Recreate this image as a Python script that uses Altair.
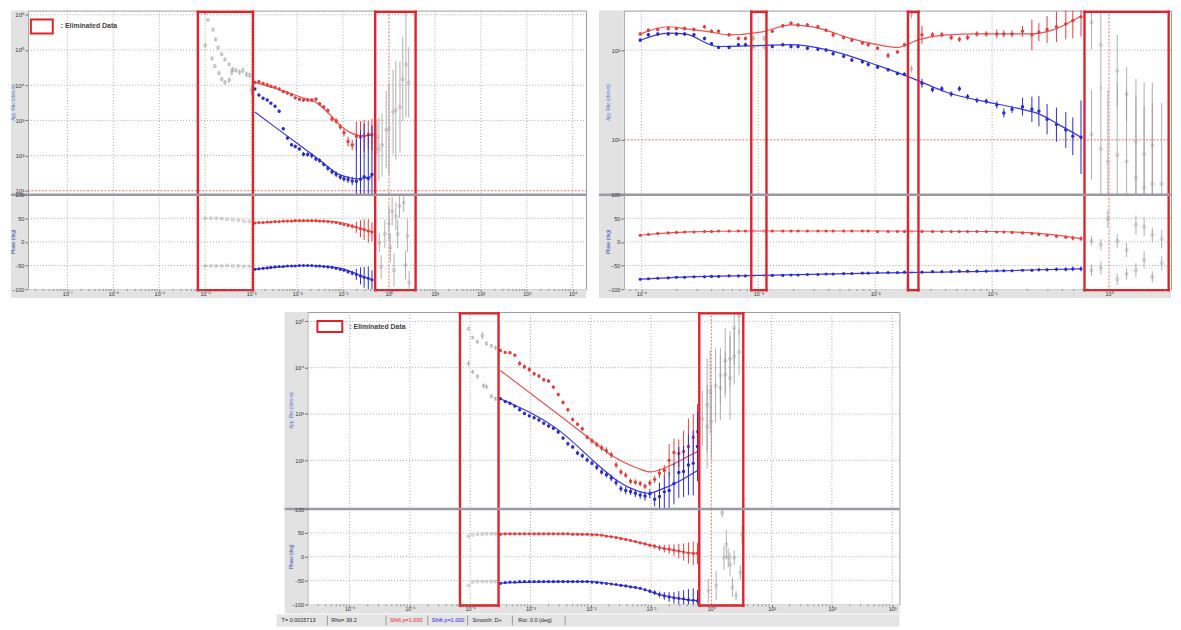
import math
import altair as alt
import pandas as pd

FONT = "Liberation Sans"
RED = "#e83c3c"
RED_LINE = "#ee5252"
RED_REF = "#f07070"
BLUE = "#2a2ad2"
BLUE_LINE = "#3838e0"
GREY = "#9a9a9a"
BOX = "#e1222b"
GRID = "#a9a9a9"
STRIP = "#e2e2e2"

# ---------------------------------------------------------------- panel A
A_LOGT = [-2.92, -2.83, -2.74, -2.65, -2.57, -2.48, -2.39, -2.30, -2.21, -2.12,
          -2.04, -1.95, -1.86, -1.77, -1.68, -1.59, -1.51, -1.42, -1.33, -1.24,
          -1.15, -1.06, -0.98, -0.89, -0.80, -0.71, -0.62, -0.54, -0.45, -0.37]
A_RED_RHO = [4.08, 4.10, 4.05, 4.01, 3.97, 3.94, 3.89, 3.82, 3.78, 3.73,
             3.64, 3.60, 3.58, 3.58, 3.58, 3.60, 3.47, 3.38, 3.28, 3.04,
             2.98, 2.82, 2.65, 2.40, 2.30, 2.55, 2.53, 2.56, 2.59, 2.59]
A_RED_ERR = [0.03, 0.03, 0.03, 0.03, 0.03, 0.03, 0.04, 0.04, 0.04, 0.04,
             0.04, 0.04, 0.05, 0.05, 0.05, 0.06, 0.05, 0.06, 0.06, 0.08,
             0.08, 0.08, 0.10, 0.14, 0.15, 0.42, 0.45, 0.45, 0.40, 0.45]
A_BLUE_RHO = [3.89, 3.72, 3.63, 3.58, 3.49, 3.40, 3.26, 2.76, 2.50, 2.31,
              2.26, 2.19, 2.04, 2.03, 2.00, 1.90, 1.86, 1.75, 1.64, 1.54,
              1.47, 1.39, 1.34, 1.32, 1.28, 1.27, 1.33, 1.40, 1.35, 1.46]
A_BLUE_ERR = [0.03, 0.03, 0.03, 0.03, 0.03, 0.03, 0.04, 0.04, 0.05, 0.05,
              0.05, 0.05, 0.06, 0.06, 0.08, 0.06, 0.06, 0.06, 0.07, 0.07,
              0.08, 0.08, 0.08, 0.10, 0.12, 1.20, 1.40, 1.50, 1.30, 1.40]
A_RED_PH = [40, 41, 41, 42, 42, 43, 43, 44, 44, 44,
            45, 45, 45, 45, 45, 45, 44, 44, 43, 42,
            41, 39, 37, 35, 33, 31, 28, 26, 23, 21]
A_BLUE_PH = [-58, -57, -56, -55, -54, -53, -52, -52, -51, -51,
             -51, -50, -50, -50, -50, -51, -51, -52, -53, -54,
             -56, -58, -60, -63, -66, -69, -72, -75, -77, -80]
A_PH_ERR = [1, 1, 1, 1, 1, 1, 1, 1, 1, 1,
            1, 1, 1, 1, 1, 1, 2, 2, 2, 2,
            2, 3, 3, 4, 5, 12, 18, 22, 25, 20]
A_RED_MOD_T = [-2.92, -2.50, -2.16, -1.85, -1.58, -1.30, -1.02, -0.85, -0.71, -0.55, -0.37]
A_RED_MOD_RHO = [4.08, 3.92, 3.77, 3.63, 3.50, 3.18, 2.81, 2.66, 2.59, 2.56, 2.59]
A_BLUE_MOD_T = [-2.92, -2.50, -2.00, -1.50, -1.08, -0.85, -0.71, -0.55, -0.37]
A_BLUE_MOD_RHO = [3.24, 2.83, 2.35, 1.86, 1.46, 1.37, 1.34, 1.36, 1.40]
A_PH_MOD_T = [-2.92, -2.40, -1.90, -1.40, -1.00, -0.70, -0.37]
A_RED_PH_MOD = [40, 43, 45, 44, 40, 31, 21]
A_BLUE_PH_MOD = [-58, -53, -50, -52, -57, -68, -80]
A_GREY_T = [-4.00, -3.94, -3.83, -3.77, -3.72, -3.64, -3.57, -3.48, -3.40, -3.33,
            -3.25, -3.18, -3.10, -3.03, -4.00, -3.85, -3.79, -3.70, -3.64, -3.57,
            -3.48, -3.42, -2.99,
            -0.26, -0.22, -0.15, -0.06, 0.00, 0.09, 0.15, 0.24, 0.30, 0.37, 0.43]
A_GREY_RHO = [6.06, 5.86, 5.58, 5.30, 5.07, 4.88, 4.73, 4.59, 4.45, 4.42,
              4.37, 4.42, 4.31, 4.28, 5.13, 4.76, 4.54, 4.34, 4.17, 4.08,
              4.14, 4.37, 3.86,
              2.53, 2.19, 2.30, 2.73, 2.76, 3.24, 3.29, 3.38, 4.17, 4.59, 4.08]
A_GREY_ERR = [0.04, 0.04, 0.05, 0.05, 0.05, 0.05, 0.05, 0.05, 0.06, 0.06,
              0.08, 0.08, 0.08, 0.08, 0.05, 0.05, 0.05, 0.06, 0.06, 0.06,
              0.08, 0.10, 0.15,
              0.5, 0.9, 0.9, 1.1, 1.3, 1.2, 1.4, 1.3, 1.2, 1.5, 1.0]
A_GREYP_T = [-4.00, -3.88, -3.76, -3.64, -3.52, -3.40, -3.28, -3.16, -3.04,
             -4.00, -3.88, -3.76, -3.64, -3.52, -3.40, -3.28, -3.16, -3.04,
             -0.21, -0.17, -0.09, 0.00, 0.03, 0.07, 0.11, 0.15, 0.19, 0.23, 0.32, 0.36, 0.40, 0.44]
A_GREYP_PH = [50, 50, 50, 49, 48, 47, 46, 44, 43,
              -51, -51, -51, -51, -50, -51, -51, -52, -52,
              -2, -53, 17, 39, -12, 65, -60, 54, 17, 76, 83, -49, 13, -86]
A_GREYP_ERR = [1, 1, 1, 1, 1, 1, 1, 1, 1,
               1, 1, 1, 1, 1, 1, 1, 1, 1,
               20, 25, 30, 35, 30, 30, 35, 30, 30, 25, 20, 30, 35, 25]

# ---------------------------------------------------------------- panel B
B_LOGT = [-4.01, -3.94, -3.86, -3.77, -3.70, -3.63, -3.55, -3.46, -3.40, -3.34, -3.25, -3.17, -3.11,
          -2.88, -2.79, -2.72, -2.66, -2.58, -2.49, -2.42, -2.36, -2.27, -2.20, -2.11, -2.06, -1.98,
          -1.89, -1.81, -1.75,
          -1.60, -1.51, -1.43, -1.35, -1.28, -1.21, -1.13, -1.05, -0.96, -0.90, -0.83, -0.74, -0.66,
          -0.60, -0.53, -0.45, -0.37, -0.31, -0.24]
B_RED_RHO = [2.18, 2.22, 2.23, 2.24, 2.24, 2.24, 2.23, 2.26, 2.21, 2.21, 2.17, 2.13, 2.13,
             2.21, 2.27, 2.30, 2.28, 2.28, 2.26, 2.22, 2.17, 2.14, 2.11, 2.08, 2.06, 2.02,
             1.94, 1.98, 2.06,
             2.17, 2.17, 2.17, 2.14, 2.12, 2.14, 2.18, 2.18, 2.18, 2.18, 2.18, 2.21, 2.17,
             2.20, 2.23, 2.26, 2.29, 2.33, 2.37]
B_RED_ERR = [0.02, 0.02, 0.02, 0.02, 0.02, 0.02, 0.02, 0.02, 0.02, 0.02, 0.02, 0.02, 0.02,
             0.02, 0.02, 0.02, 0.02, 0.02, 0.02, 0.02, 0.03, 0.02, 0.02, 0.02, 0.02, 0.02,
             0.03, 0.02, 0.02,
             0.10, 0.03, 0.03, 0.03, 0.03, 0.03, 0.03, 0.03, 0.05, 0.04, 0.04, 0.06, 0.17,
             0.10, 0.15, 0.17, 0.17, 0.20, 0.22]
B_BLUE_RHO = [2.11, 2.17, 2.18, 2.18, 2.18, 2.18, 2.17, 2.13, 2.07, 2.03, 2.03, 2.06, 2.06,
              2.04, 2.06, 2.04, 2.04, 2.02, 2.01, 2.00, 1.96, 1.93, 1.89, 1.87, 1.84, 1.81,
              1.78, 1.74, 1.73,
              1.63, 1.56, 1.57, 1.51, 1.57, 1.48, 1.44, 1.43, 1.39, 1.30, 1.34, 1.37, 1.34,
              1.32, 1.23, 1.17, 1.11, 1.04, 1.03]
B_BLUE_ERR = [0.02, 0.02, 0.02, 0.02, 0.02, 0.02, 0.02, 0.02, 0.02, 0.02, 0.02, 0.02, 0.02,
              0.02, 0.02, 0.02, 0.02, 0.02, 0.02, 0.02, 0.02, 0.02, 0.02, 0.02, 0.02, 0.02,
              0.02, 0.02, 0.02,
              0.05, 0.03, 0.03, 0.03, 0.03, 0.03, 0.03, 0.03, 0.04, 0.05, 0.04, 0.10, 0.14,
              0.17, 0.17, 0.19, 0.20, 0.21, 0.41]
B_RED_PH = [14, 16, 18, 19, 20, 21, 21, 22, 22, 23, 23, 23, 23,
            23, 23, 23, 23, 23, 23, 23, 23, 23, 23, 23, 23, 22,
            22, 22, 22,
            22, 22, 22, 22, 22, 22, 22, 22, 21, 21, 20, 19, 18,
            16, 14, 12, 10, 8, 7]
B_BLUE_PH = [-79, -78, -77, -76, -75, -75, -74, -74, -73, -73, -72, -72, -72,
             -71, -71, -70, -70, -69, -69, -68, -68, -67, -67, -66, -66, -65,
             -65, -65, -64,
             -64, -63, -63, -63, -62, -62, -62, -62, -61, -61, -61, -60, -60,
             -59, -59, -58, -58, -57, -57]
B_PH_ERR = [1, 1, 1, 1, 1, 1, 1, 1, 1, 1, 1, 1, 1,
            1, 1, 1, 1, 1, 1, 1, 1, 1, 1, 1, 1, 1,
            1, 1, 1,
            1, 1, 1, 1, 1, 1, 1, 1, 1, 2, 2, 2, 3,
            3, 3, 4, 4, 5, 5]
B_RED_MOD_T = [-4.01, -3.77, -3.63, -3.40, -3.25, -2.98, -2.72, -2.47, -2.21, -1.98, -1.81,
               -1.62, -1.39, -1.11, -0.68, -0.49, -0.24]
B_RED_MOD_RHO = [2.18, 2.26, 2.24, 2.20, 2.17, 2.20, 2.28, 2.24, 2.13, 2.06, 2.03,
                 2.12, 2.17, 2.18, 2.18, 2.22, 2.38]
B_BLUE_MOD_T = [-4.01, -3.77, -3.63, -3.34, -3.00, -2.72, -2.40, -1.98, -1.67, -1.39, -0.96,
                -0.74, -0.60, -0.43, -0.24]
B_BLUE_MOD_RHO = [2.11, 2.19, 2.18, 2.04, 2.05, 2.06, 2.00, 1.83, 1.68, 1.53, 1.40,
                  1.34, 1.29, 1.17, 1.03]
B_PH_MOD_T = [-4.01, -3.60, -3.00, -2.00, -1.00, -0.60, -0.24]
B_RED_PH_MOD = [14, 21, 23, 23, 22, 18, 7]
B_BLUE_PH_MOD = [-79, -74, -71, -66, -62, -59, -57]
B_GREY_T = [-3.04, -2.95, -1.69, -3.04, -2.95, -1.69,
            -0.15, -0.15, -0.07, -0.07, -0.01, 0.07, 0.07, 0.15, 0.15, 0.23, 0.23, 0.30, 0.30,
            0.37, 0.37, 0.45]
B_GREY_RHO = [2.13, 2.13, 2.40, 2.04, 2.04, 1.79,
              2.31, 1.06, 2.06, 0.90, 0.76, 1.77, 0.83, 1.51, 0.76, 0.98, 0.58, 0.84, 0.47,
              0.94, 0.51, 0.51]
B_GREY_ERR = [0.03, 0.03, 0.05, 0.03, 0.03, 0.04,
              0.3, 0.5, 0.5, 0.7, 0.8, 0.4, 0.8, 0.3, 0.8, 0.7, 0.9, 0.8, 0.9,
              0.7, 0.9, 0.9]
B_GREYP_T = [-3.04, -2.95, -1.69, -3.04, -2.95, -1.69,
             -0.15, -0.15, -0.07, -0.07, -0.01, 0.07, 0.07, 0.15, 0.15, 0.23, 0.23, 0.30, 0.30,
             0.37, 0.37, 0.45, 0.45]
B_GREYP_PH = [23, 23, 22, -72, -71, -64,
              2, -60, -6, -55, 49, 2, -79, -17, -68, 36, -60, 32, -38, 15, -74, 6, -45]
B_GREYP_ERR = [1, 1, 1, 1, 1, 1,
               10, 12, 12, 14, 18, 15, 12, 15, 12, 20, 15, 20, 18, 15, 12, 20, 15]

# ---------------------------------------------------------------- panel C
C_LOGT = [-3.50, -3.42, -3.34, -3.26, -3.18, -3.10, -3.02, -2.94, -2.86, -2.78,
          -2.70, -2.62, -2.54, -2.46, -2.38, -2.30, -2.22, -2.14, -2.06, -1.98,
          -1.90, -1.82, -1.74, -1.66, -1.58, -1.50, -1.42, -1.34, -1.26, -1.18,
          -1.10, -1.02, -0.94, -0.86, -0.78, -0.70, -0.62, -0.54, -0.46, -0.38, -0.30, -0.23]
C_RED_RHO = [4.37, 4.33, 4.32, 4.27, 4.09, 4.02, 3.96, 3.87, 3.82, 3.74,
             3.71, 3.58, 3.42, 3.25, 3.09, 2.88, 2.78, 2.68, 2.50, 2.42,
             2.34, 2.27, 2.21, 2.12, 1.90, 1.75, 1.68, 1.55, 1.53, 1.50,
             1.44, 1.51, 1.59, 1.72, 1.78, 2.00, 2.17, 2.15, 2.19, 2.30, 2.50, 2.62]
C_RED_ERR = [0.03, 0.03, 0.03, 0.03, 0.05, 0.05, 0.05, 0.04, 0.04, 0.04,
             0.04, 0.04, 0.04, 0.04, 0.04, 0.04, 0.04, 0.05, 0.05, 0.06,
             0.06, 0.07, 0.07, 0.07, 0.06, 0.06, 0.06, 0.06, 0.06, 0.06,
             0.06, 0.07, 0.08, 0.10, 0.12, 0.35, 0.30, 0.30, 0.45, 0.60, 0.50, 0.60]
C_BLUE_RHO = [3.33, 3.27, 3.23, 3.17, 3.09, 3.01, 2.96, 2.92, 2.87, 2.80,
              2.74, 2.69, 2.61, 2.48, 2.36, 2.29, 2.16, 2.10, 2.01, 1.94,
              1.85, 1.75, 1.69, 1.62, 1.52, 1.39, 1.35, 1.33, 1.29, 1.25,
              1.23, 1.28, 1.16, 1.22, 1.32, 1.35, 1.50, 1.74, 1.76, 1.90, 1.94, 2.30]
C_BLUE_ERR = [0.03, 0.03, 0.03, 0.03, 0.03, 0.03, 0.03, 0.03, 0.03, 0.03,
              0.03, 0.03, 0.04, 0.04, 0.04, 0.04, 0.05, 0.05, 0.05, 0.05,
              0.06, 0.06, 0.06, 0.07, 0.07, 0.07, 0.08, 0.08, 0.08, 0.08,
              0.10, 0.10, 0.15, 0.30, 0.35, 0.40, 0.45, 0.55, 0.55, 0.65, 0.70, 0.75]
C_RED_PH = [47, 48, 48, 48, 48, 48, 48, 48, 48, 48,
            48, 48, 48, 48, 48, 47, 47, 47, 47, 46,
            46, 45, 43, 42, 40, 38, 36, 34, 32, 29,
            27, 24, 22, 19, 17, 16, 14, 12, 10, 8, 7, 7]
C_BLUE_PH = [-56, -54, -53, -53, -52, -52, -52, -52, -52, -52,
             -52, -52, -52, -52, -52, -52, -52, -52, -52, -53,
             -54, -55, -56, -57, -58, -60, -61, -63, -64, -66,
             -69, -72, -75, -79, -82, -84, -86, -87, -88, -90, -91, -92]
C_PH_ERR = [1, 1, 1, 1, 1, 1, 1, 1, 1, 1,
            1, 1, 1, 1, 1, 1, 1, 1, 1, 1,
            1, 1, 1, 2, 2, 2, 2, 2, 2, 2,
            3, 4, 5, 6, 8, 10, 12, 15, 18, 22, 25, 22]
C_RED_MOD_T = [-3.50, -2.50, -2.00, -1.67, -1.22, -1.01, -0.78, -0.45, -0.23]
C_RED_MOD_RHO = [3.94, 2.95, 2.45, 2.12, 1.83, 1.75, 1.83, 2.04, 2.19]
C_BLUE_MOD_T = [-3.50, -2.50, -1.88, -1.60, -1.34, -1.05, -0.78, -0.45, -0.23]
C_BLUE_MOD_RHO = [3.33, 2.62, 1.90, 1.60, 1.40, 1.29, 1.40, 1.61, 1.78]
C_PH_MOD_T = [-3.50, -2.50, -2.00, -1.60, -1.20, -0.80, -0.50, -0.23]
C_RED_PH_MOD = [48, 48, 47, 41, 30, 18, 11, 7]
C_BLUE_PH_MOD = [-55, -52, -52, -58, -66, -81, -88, -92]
C_GREY_T = [-4.03, -3.96, -3.88, -3.80, -3.73, -3.65, -3.58,
            -4.03, -3.96, -3.88, -3.78, -3.73, -3.65, -3.58,
            -0.15, -0.07, -0.07, 0.00, -0.02, 0.07, 0.15, 0.15, 0.23, 0.23, 0.31, 0.31,
            0.38, 0.38, 0.46, 0.46]
C_GREY_RHO = [4.84, 4.65, 4.56, 4.69, 4.52, 4.47, 4.43,
              4.09, 3.91, 3.81, 3.61, 3.59, 3.38, 3.33,
              2.90, 2.73, 3.20, 2.84, 3.48, 3.61, 3.57, 3.83, 3.85, 4.15, 4.19, 3.78,
              4.24, 4.86, 4.34, 5.12]
C_GREY_ERR = [0.03, 0.03, 0.04, 0.08, 0.04, 0.04, 0.04,
              0.06, 0.04, 0.04, 0.05, 0.04, 0.04, 0.04,
              0.6, 0.9, 1.0, 0.8, 0.9, 0.8, 0.7, 0.6, 0.5, 0.7, 0.6, 0.9,
              0.6, 0.8, 0.5, 0.4]
C_GREYP_T = [-4.03, -3.96, -3.88, -3.80, -3.73, -3.65, -3.58,
             -4.03, -3.96, -3.88, -3.80, -3.73, -3.65, -3.58,
             -0.05, 0.08, 0.18, 0.21, 0.25, 0.28, 0.31, 0.35, 0.38, 0.41, 0.48, 0.51]
C_GREYP_PH = [43, 46, 47, 47, 48, 48, 48,
              -60, -53, -52, -52, -52, -52, -52,
              -71, -60, 92, -2, 26, -2, -16, -64, -2, -81, -33, 47]
C_GREYP_ERR = [1, 1, 1, 1, 1, 1, 1,
               1, 1, 1, 1, 1, 1, 1,
               25, 30, 10, 25, 30, 20, 25, 20, 15, 10, 15, 20]

STATUS_TEXT = ["T= 0.0015713", "Rho= 39.2", "Shift \u03c1=1.000", "Shift \u03c1=1.000",
               "Smooth: D+", "Rot: 0.0 (deg)"]
STATUS_COLOR = ["#222222", "#222222", "#e02020", "#1a1ae0", "#222222", "#222222"]
MINOR = [2, 3, 4, 5, 6, 7, 8, 9]
PHASE_TICKS = [-100, -50, 0, 50, 100]
PHASE_GRID = [-50, 0, 50]

LOG_LABEL = ("'10' + (datum.value < 1 ? '\u207b' : '') + "
             "substring('\u2070\u00b9\u00b2\u00b3\u2074\u2075\u2076\u2077\u2078\u2079', "
             "abs(round(log(datum.value) / LN10)), abs(round(log(datum.value) / LN10)) + 1)")


def logdf(logt, logv, err):
    return pd.DataFrame({
        "T": [10 ** t for t in logt],
        "v": [10 ** r for r in logv],
        "lo": [10 ** (r - e) for r, e in zip(logv, err)],
        "hi": [10 ** (r + e) for r, e in zip(logv, err)],
    })


def lindf(logt, vals, err):
    return pd.DataFrame({
        "T": [10 ** t for t in logt],
        "v": vals,
        "lo": [p - e for p, e in zip(vals, err)],
        "hi": [p + e for p, e in zip(vals, err)],
    })


def curve(logt, vals, log_y):
    return pd.DataFrame({"T": [10 ** t for t in logt],
                         "v": [10 ** v for v in vals] if log_y else list(vals)})


def ax(**kw):
    base = dict(labelFont=FONT, labelColor="#333333", tickColor="#777777", domain=False,
                grid=False, title=None, zindex=1, labelOverlap=False, labelFlush=False)
    base.update(kw)
    return alt.Axis(**base)


ONE = pd.DataFrame({"d": [0]})


def vrect(x0, x1, y0, y1, color):
    return alt.Chart(ONE).mark_rect(color=color).encode(
        x=alt.value(x0), x2=alt.value(x1), y=alt.value(y0), y2=alt.value(y1))


def make_panel(P):
    w, hr, hp, sw = P["w"], P["hr"], P["hp"], P["strip"]
    xsc = alt.Scale(type="log", domain=[10 ** P["xdom"][0], 10 ** P["xdom"][1]], nice=False)
    rsc = alt.Scale(type="log", domain=[10 ** P["ydom"][0], 10 ** P["ydom"][1]], nice=False)
    psc = alt.Scale(domain=[-100, 100], nice=False, zero=False)
    xt = [10 ** e for e in P["xticks"]]
    yt = [10 ** e for e in P["yticks"]]
    xb_axis = ax(values=xt, labelExpr=LOG_LABEL, labelFontSize=5.5, tickSize=2,
                 labelPadding=0, minExtent=9, maxExtent=9)
    r_axis = ax(values=yt, labelExpr=LOG_LABEL, labelFontSize=6, tickSize=3, labelPadding=1,
                minExtent=19, maxExtent=19)
    p_axis = ax(values=PHASE_TICKS, labelFontSize=5.5, tickSize=3, labelPadding=1,
                minExtent=19, maxExtent=19)

    def XT(f):
        return alt.X(f, type="quantitative", scale=xsc, axis=None)

    def XB(f):
        return alt.X(f, type="quantitative", scale=xsc, axis=xb_axis)

    def YR(f):
        return alt.Y(f, type="quantitative", scale=rsc, axis=r_axis)

    def YP(f):
        return alt.Y(f, type="quantitative", scale=psc, axis=p_axis)

    gx = pd.DataFrame({"g": [10 ** e for e in P["xticks"] if e != 0]})
    ref_t = pd.DataFrame({"g": [1.0]})
    edges = pd.DataFrame({"e": [10 ** a for b in P["boxes"] for a in b]})
    bx = pd.DataFrame({"a": [10 ** b[0] for b in P["boxes"]], "b": [10 ** b[1] for b in P["boxes"]]})

    # ---------------- resistivity
    L = [vrect(-sw, 0, 0, hr, STRIP)]
    L.append(alt.Chart(gx).mark_rule(color=GRID, strokeDash=[1, 2]).encode(
        x=XT("g"), y=alt.value(0), y2=alt.value(hr)))
    gy = pd.DataFrame({"g": [10 ** e for e in P["ygrid"]]})
    L.append(alt.Chart(gy).mark_rule(color=GRID, strokeDash=[1, 2]).encode(
        y=YR("g"), x=alt.value(0), x2=alt.value(w)))
    L.append(alt.Chart(ref_t).mark_rule(color=RED_REF, strokeDash=[2, 1.5]).encode(
        x=XT("g"), y=alt.value(0), y2=alt.value(hr)))
    if P["red_h"]:
        ref_r = pd.DataFrame({"g": [10.0]})
        L.append(alt.Chart(ref_r).mark_rule(color=RED_REF, strokeDash=[2, 1.5]).encode(
            y=YR("g"), x=alt.value(0), x2=alt.value(w)))
    gr = logdf(P["grey_t"], P["grey_rho"], P["grey_err"])
    L.append(alt.Chart(gr).mark_rule(color=GREY, strokeWidth=0.8, clip=True).encode(
        x=XT("T"), y=YR("lo"), y2="hi"))
    L.append(alt.Chart(gr).mark_point(color=GREY, size=9, strokeWidth=0.8, clip=True).encode(
        x=XT("T"), y=YR("v")))
    for t, v, col in [(P["rm_t"], P["rm_r"], RED_LINE), (P["bm_t"], P["bm_r"], BLUE_LINE)]:
        L.append(alt.Chart(curve(t, v, True)).mark_line(
            color=col, strokeWidth=1.2, interpolate="monotone", clip=True).encode(
            x=XT("T"), y=YR("v")))
    for rho, err, col in [(P["red_rho"], P["red_err"], RED), (P["blue_rho"], P["blue_err"], BLUE)]:
        d = logdf(P["t"], rho, err)
        L.append(alt.Chart(d).mark_rule(color=col, strokeWidth=1, clip=True).encode(
            x=XT("T"), y=YR("lo"), y2="hi"))
        L.append(alt.Chart(d).mark_circle(color=col, size=12, opacity=1, clip=True).encode(
            x=XT("T"), y=YR("v")))
    L.append(alt.Chart(edges).mark_rule(color=BOX, strokeWidth=2.4, strokeCap="square").encode(
        x=XT("e"), y=alt.value(1.3), y2=alt.value(hr)))
    L.append(alt.Chart(bx).mark_rule(color=BOX, strokeWidth=2.4, strokeCap="square").encode(
        x=XT("a"), x2="b", y=alt.value(1.3)))
    if P["legend"]:
        lx0, ly0, lx1, ly1, tx, ty = P["legend"]
        L.append(alt.Chart(ONE).mark_rect(fill="white", fillOpacity=0, stroke=BOX, strokeWidth=2).encode(
            x=alt.value(lx0), x2=alt.value(lx1), y=alt.value(ly0), y2=alt.value(ly1)))
        L.append(alt.Chart(ONE).mark_text(text=": Eliminated Data", align="left", baseline="middle",
                                          fontSize=7, fontWeight="bold", color="#444444",
                                          font=FONT).encode(x=alt.value(tx), y=alt.value(ty)))
    L.append(alt.Chart(ONE).mark_text(text="App. Rho (ohm.m)", angle=270, fontSize=4.5,
                                      color="#5a6fd0", font=FONT).encode(
        x=alt.value(P["title_x"]), y=alt.value(hr / 2)))
    res = alt.layer(*L).properties(width=w, height=hr)

    # ---------------- phase
    Q = [vrect(-sw, 0, 0, hp + 9, STRIP), vrect(0, w, hp, hp + 9, STRIP)]
    Q.append(alt.Chart(gx).mark_rule(color=GRID, strokeDash=[1, 2]).encode(
        x=XB("g"), y=alt.value(0), y2=alt.value(hp)))
    gp = pd.DataFrame({"g": PHASE_GRID})
    Q.append(alt.Chart(gp).mark_rule(color=GRID, strokeDash=[1, 2]).encode(
        y=YP("g"), x=alt.value(0), x2=alt.value(w)))
    Q.append(alt.Chart(ref_t).mark_rule(color=RED_REF, strokeDash=[2, 1.5]).encode(
        x=XB("g"), y=alt.value(0), y2=alt.value(hp)))
    gpd = lindf(P["greyp_t"], P["greyp_ph"], P["greyp_err"])
    Q.append(alt.Chart(gpd).mark_rule(color=GREY, strokeWidth=0.8, clip=True).encode(
        x=XB("T"), y=YP("lo"), y2="hi"))
    Q.append(alt.Chart(gpd).mark_point(color=GREY, size=9, strokeWidth=0.8, clip=True).encode(
        x=XB("T"), y=YP("v")))
    for v, col in [(P["rpm"], RED_LINE), (P["bpm"], BLUE_LINE)]:
        Q.append(alt.Chart(curve(P["pm_t"], v, False)).mark_line(
            color=col, strokeWidth=1.2, interpolate="monotone", clip=True).encode(
            x=XB("T"), y=YP("v")))
    for ph, col in [(P["red_ph"], RED), (P["blue_ph"], BLUE)]:
        d = lindf(P["t"], ph, P["ph_err"])
        Q.append(alt.Chart(d).mark_rule(color=col, strokeWidth=1, clip=True).encode(
            x=XB("T"), y=YP("lo"), y2="hi"))
        Q.append(alt.Chart(d).mark_circle(color=col, size=10, opacity=1, clip=True).encode(
            x=XB("T"), y=YP("v")))
    Q.append(alt.Chart(edges).mark_rule(color=BOX, strokeWidth=2.4, strokeCap="square").encode(
        x=XB("e"), y=alt.value(0), y2=alt.value(hp + 1)))
    Q.append(alt.Chart(bx).mark_rule(color=BOX, strokeWidth=2.4, strokeCap="square").encode(
        x=XB("a"), x2="b", y=alt.value(hp + 1)))
    Q.append(alt.Chart(ONE).mark_rule(color="#9a9aa6", strokeWidth=2.5).encode(
        x=alt.value(-sw), x2=alt.value(w), y=alt.value(0)))
    lo_d, hi_d = math.floor(P["xdom"][0]), math.ceil(P["xdom"][1])
    minor = [m * 10 ** d for d in range(lo_d, hi_d) for m in MINOR
             if P["xdom"][0] < math.log10(m * 10 ** d) < P["xdom"][1]]
    Q.append(alt.Chart(pd.DataFrame({"g": minor})).mark_rule(color="#777777", strokeWidth=0.8).encode(
        x=XB("g"), y=alt.value(hp), y2=alt.value(hp + 1.8)))
    Q.append(alt.Chart(ONE).mark_text(text="Phase (deg)", angle=270, fontSize=4.5,
                                      color="#3a4fb0", font=FONT).encode(
        x=alt.value(P["title_x"]), y=alt.value(hp / 2)))
    if P["status"]:
        Q.append(vrect(-31, w, hp + 10, hp + 22, "#e4e4e4"))
        for sx in P["status_sep"]:
            Q.append(alt.Chart(ONE).mark_rule(color="#9a9a9a", strokeWidth=1).encode(
                x=alt.value(sx), y=alt.value(hp + 11), y2=alt.value(hp + 21)))
        for txt, col, sx in zip(STATUS_TEXT, STATUS_COLOR, P["status_x"]):
            Q.append(alt.Chart(ONE).mark_text(text=txt, align="left", baseline="middle",
                                              fontSize=5.5, color=col, font=FONT).encode(
                x=alt.value(sx), y=alt.value(hp + 16)))
    ph = alt.layer(*Q).properties(width=w, height=hp)
    return alt.vconcat(res, ph, spacing=0, bounds="flush")


PA = dict(w=561, hr=185, hp=95, strip=17, title_x=-14,
          xdom=(-7.86, 4.29), ydom=(0.89, 6.12),
          xticks=list(range(-7, 5)), yticks=[1, 2, 3, 4, 5, 6], ygrid=[2, 3, 4, 5, 6], red_h=True,
          t=A_LOGT, red_rho=A_RED_RHO, red_err=A_RED_ERR, blue_rho=A_BLUE_RHO, blue_err=A_BLUE_ERR,
          red_ph=A_RED_PH, blue_ph=A_BLUE_PH, ph_err=A_PH_ERR,
          rm_t=A_RED_MOD_T, rm_r=A_RED_MOD_RHO, bm_t=A_BLUE_MOD_T, bm_r=A_BLUE_MOD_RHO,
          pm_t=A_PH_MOD_T, rpm=A_RED_PH_MOD, bpm=A_BLUE_PH_MOD,
          grey_t=A_GREY_T, grey_rho=A_GREY_RHO, grey_err=A_GREY_ERR,
          greyp_t=A_GREYP_T, greyp_ph=A_GREYP_PH, greyp_err=A_GREYP_ERR,
          boxes=[(-4.16, -2.96), (-0.30, 0.58)],
          legend=(3, 9, 25, 23, 33, 16), status=False)

PB = dict(w=550, hr=185, hp=95, strip=25, title_x=-15,
          xdom=(-4.15, 0.53), ydom=(0.39, 2.44),
          xticks=[-4, -3, -2, -1, 0], yticks=[1, 2], ygrid=[2], red_h=True,
          t=B_LOGT, red_rho=B_RED_RHO, red_err=B_RED_ERR, blue_rho=B_BLUE_RHO, blue_err=B_BLUE_ERR,
          red_ph=B_RED_PH, blue_ph=B_BLUE_PH, ph_err=B_PH_ERR,
          rm_t=B_RED_MOD_T, rm_r=B_RED_MOD_RHO, bm_t=B_BLUE_MOD_T, bm_r=B_BLUE_MOD_RHO,
          pm_t=B_PH_MOD_T, rpm=B_RED_PH_MOD, bpm=B_BLUE_PH_MOD,
          grey_t=B_GREY_T, grey_rho=B_GREY_RHO, grey_err=B_GREY_ERR,
          greyp_t=B_GREYP_T, greyp_ph=B_GREYP_PH, greyp_err=B_GREYP_ERR,
          boxes=[(-3.06, -2.93), (-1.72, -1.63), (-0.21, 0.51)],
          legend=None, status=False)

PC = dict(w=595, hr=198, hp=96, strip=23, title_x=-16,
          xdom=(-6.70, 3.12), ydom=(0.95, 5.20),
          xticks=list(range(-6, 4)), yticks=[2, 3, 4, 5], ygrid=[2, 3, 4, 5], red_h=False,
          t=C_LOGT, red_rho=C_RED_RHO, red_err=C_RED_ERR, blue_rho=C_BLUE_RHO, blue_err=C_BLUE_ERR,
          red_ph=C_RED_PH, blue_ph=C_BLUE_PH, ph_err=C_PH_ERR,
          rm_t=C_RED_MOD_T, rm_r=C_RED_MOD_RHO, bm_t=C_BLUE_MOD_T, bm_r=C_BLUE_MOD_RHO,
          pm_t=C_PH_MOD_T, rpm=C_RED_PH_MOD, bpm=C_BLUE_PH_MOD,
          grey_t=C_GREY_T, grey_rho=C_GREY_RHO, grey_err=C_GREY_ERR,
          greyp_t=C_GREYP_T, greyp_ph=C_GREYP_PH, greyp_err=C_GREYP_ERR,
          boxes=[(-4.17, -3.53), (-0.20, 0.53)],
          legend=(10, 9, 35, 20, 42, 15), status=True,
          status_x=[-26, 24, 83, 125, 166, 212], status_sep=[20, 79, 121, 161, 206, 259])

pa = make_panel(PA)
pb = make_panel(PB)
pc = make_panel(PC)
spacer = alt.Chart(ONE).mark_point(opacity=0).encode(x=alt.value(0), y=alt.value(0)).properties(
    width=281, height=10, view=alt.ViewBackground(strokeOpacity=0))

top = alt.hconcat(pa, pb, spacing=9)
bottom = alt.hconcat(spacer, pc, spacing=0, bounds="flush")
chart = alt.vconcat(top, bottom, spacing=10).properties(padding=0)
chart = chart.configure(font=FONT).configure_view(stroke="#9c9c9c", strokeWidth=1)

chart.save("out.html", embed_options={"renderer": "svg", "actions": False})
